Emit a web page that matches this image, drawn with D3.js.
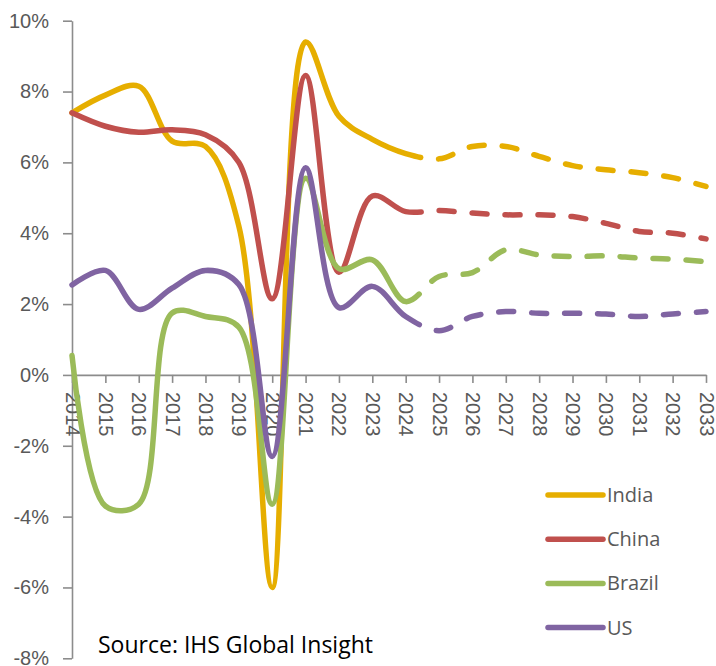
<!DOCTYPE html>
<html>
<head>
<meta charset="utf-8">
<script src="https://cdn.jsdelivr.net/npm/d3@7"></script>
<style>
  body { margin: 0; background: #fff; }
  svg { display: block; font-family: "Open Sans", sans-serif; }
</style>
</head>
<body>
<div id="chart"></div>
<script>
const years = [2014, 2015, 2016, 2017, 2018, 2019, 2020, 2021, 2022, 2023,
               2024, 2025, 2026, 2027, 2028, 2029, 2030, 2031, 2032, 2033];
const lastActual = 2024;

const india  = [7.4, 7.9, 8.15, 6.6, 6.45, 4.2, -6.0, 9.4, 7.3, 6.65, 6.25, 6.1, 6.45, 6.45, 6.17, 5.91, 5.79, 5.71, 5.57, 5.32];
const china  = [7.4, 7.02, 6.85, 6.92, 6.78, 6.0, 2.15, 8.45, 2.9, 5.05, 4.61, 4.64, 4.57, 4.52, 4.52, 4.47, 4.28, 4.05, 4.0, 3.84];
const brazil = [0.55, -3.7, -3.65, 1.75, 1.65, 1.35, -3.65, 5.55, 3.0, 3.25, 2.07, 2.78, 2.89, 3.53, 3.39, 3.34, 3.36, 3.3, 3.27, 3.2];
const us     = [2.54, 2.95, 1.85, 2.45, 2.95, 2.55, -2.3, 5.85, 1.9, 2.5, 1.65, 1.25, 1.65, 1.79, 1.74, 1.74, 1.72, 1.65, 1.72, 1.79];

const seriesNames = ["India", "China", "Brazil", "US"];
const seriesColors = ["#e6ae00", "#c0504d", "#9bbb59", "#8064a2"];
const yTicks = [-8, -6, -4, -2, 0, 2, 4, 6, 8, 10];
const sourceNote = "Source: IHS Global Insight";

const width = 716, height = 666;
const margin = { top: 20.7, left: 72, right: 10, bottom: 7.7 };
const lineWidth = 5.5;
const axisColor = "#8c8c8c";
const labelColor = "#595959";

const svg = d3.select("#chart")
  .append("svg")
  .attr("width", width)
  .attr("height", height);

const x = d3.scalePoint()
  .domain(years)
  .range([margin.left, width - margin.right]);

const y = d3.scaleLinear()
  .domain([-8, 10])
  .range([height - margin.bottom, margin.top]);

// y axis
const yAxis = svg.append("g")
  .attr("transform", `translate(${margin.left},0)`)
  .call(d3.axisLeft(y)
    .tickValues(yTicks)
    .tickFormat(d => d + "%")
    .tickSize(9)
    .tickPadding(14)
    .tickSizeOuter(0));

// x axis sits on the 0% line
const xAxis = svg.append("g")
  .attr("transform", `translate(0,${y(0)})`)
  .call(d3.axisBottom(x)
    .tickSize(8)
    .tickSizeOuter(0));

xAxis.selectAll("text")
  .attr("transform", "rotate(90)")
  .attr("x", 17)
  .attr("y", 0)
  .attr("dy", "0.35em")
  .attr("text-anchor", "start");

[yAxis, xAxis].forEach(g => {
  g.selectAll("path, line").attr("stroke", axisColor).attr("stroke-width", 1.6);
  g.selectAll("text").attr("fill", labelColor).attr("font-size", "20px");
});

const seriesData = [india, china, brazil, us];

const line = d3.line()
  .x((d, i) => x(years[i]))
  .y(d => y(d))
  .curve(d3.curveCatmullRom.alpha(0.5));

// solid up to the last actual year, dashed forecast after it
const dash = 15, gap = 18;
const splitX = x(lastActual);

seriesData.forEach((values, s) => {
  const path = svg.append("path")
    .attr("d", line(values))
    .attr("fill", "none")
    .attr("stroke", seriesColors[s])
    .attr("stroke-width", lineWidth)
    .attr("stroke-linecap", "round")
    .attr("stroke-linejoin", "round");

  const node = path.node();
  const total = node.getTotalLength();
  let lo = 0, hi = total;
  for (let k = 0; k < 40; k++) {
    const mid = (lo + hi) / 2;
    if (node.getPointAtLength(mid).x < splitX) lo = mid; else hi = mid;
  }
  const pattern = [lo + dash];
  let len = lo + dash;
  while (len < total + 40) {
    pattern.push(gap, dash);
    len += gap + dash;
  }
  path.attr("stroke-dasharray", pattern.join(","));
});

// legend
const legend = svg.append("g")
  .selectAll("g")
  .data(seriesNames)
  .join("g")
  .attr("transform", (d, i) => `translate(548,${495 + i * 44.2})`);

legend.append("line")
  .attr("x1", 0)
  .attr("x2", 55)
  .attr("stroke", (d, i) => seriesColors[i])
  .attr("stroke-width", lineWidth)
  .attr("stroke-linecap", "round");

legend.append("text")
  .attr("x", 59)
  .attr("dy", "0.35em")
  .attr("font-size", "20px")
  .attr("fill", labelColor)
  .text(d => d);

svg.append("text")
  .attr("x", 98)
  .attr("y", 653)
  .attr("font-size", "23px")
  .attr("fill", "#000")
  .text(sourceNote);
</script>
</body>
</html>
